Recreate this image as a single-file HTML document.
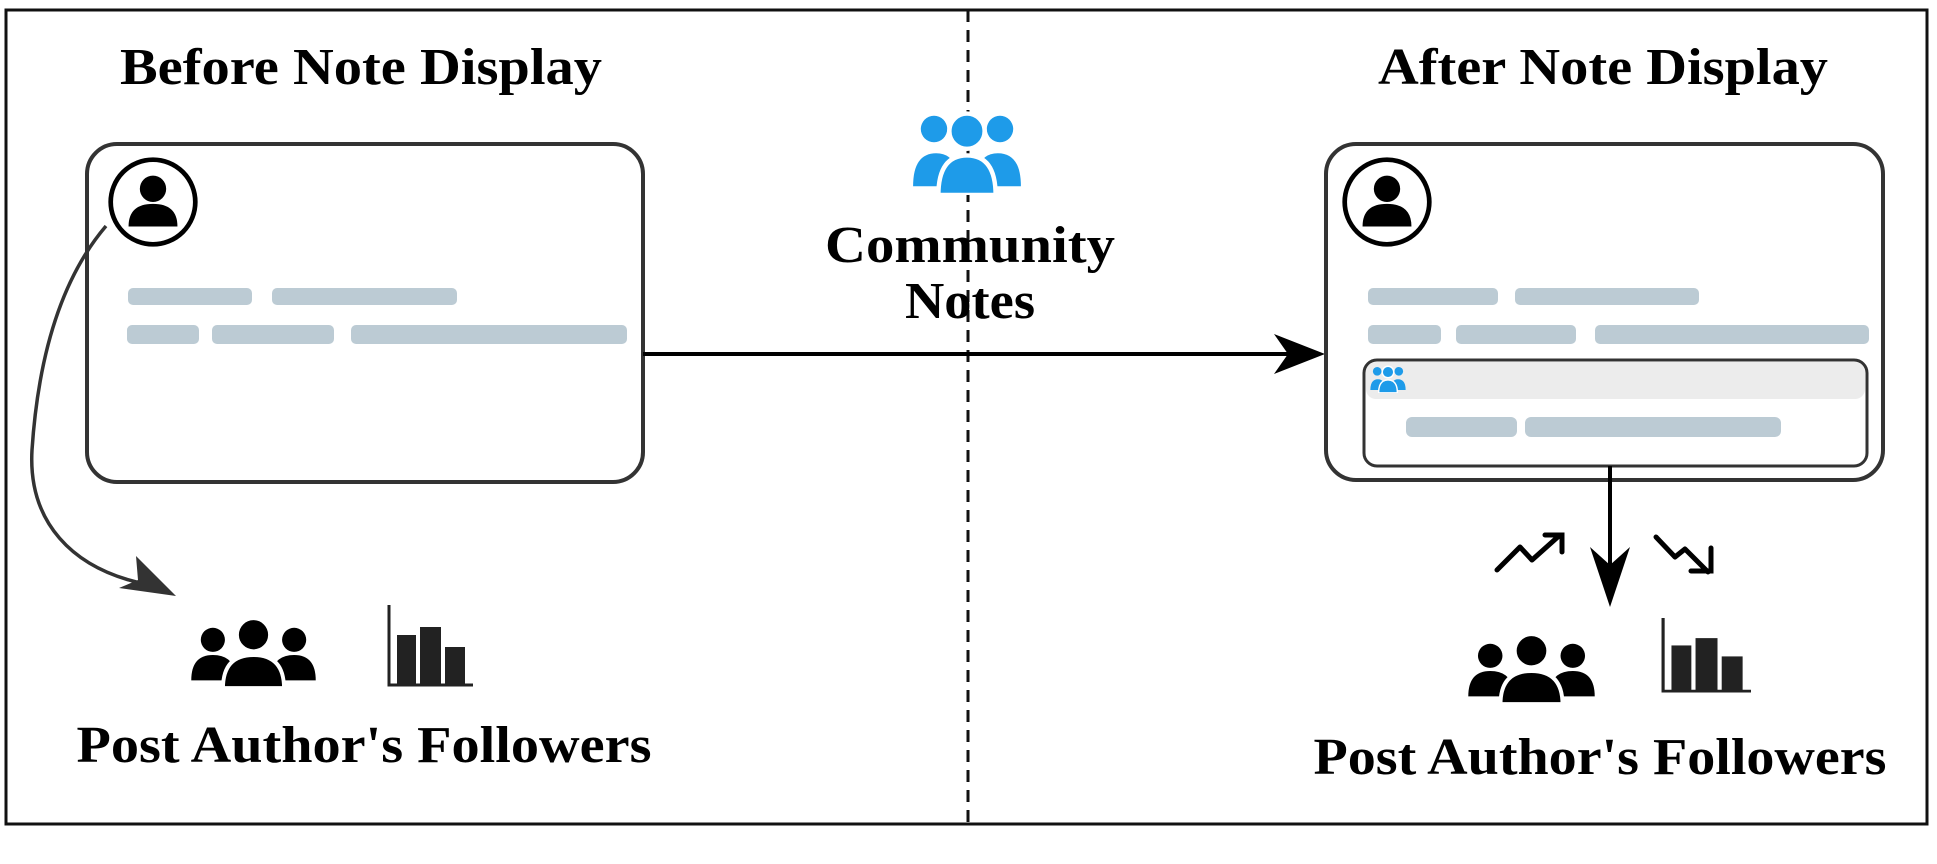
<!DOCTYPE html>
<html><head><meta charset="utf-8"><style>
html,body{margin:0;padding:0;background:#fff;}
svg{display:block;}
text{font-family:"Liberation Serif","Times New Roman",serif;font-weight:bold;fill:#000;}
</style></head><body>
<svg width="1937" height="864" viewBox="0 0 1937 864" xmlns="http://www.w3.org/2000/svg">
<defs>
<symbol id="ppl" viewBox="0 0 100 56" preserveAspectRatio="none">
<circle cx="18" cy="18" r="9.5"/>
<path d="M1 50 Q1 30 18 30 Q33 30 36 44 L34 50 Z"/>
<circle cx="82" cy="18" r="9.5"/>
<path d="M99 50 Q99 30 82 30 Q67 30 64 44 L66 50 Z"/>
<path d="M26 56 Q26 30 50 30 Q74 30 74 56 Z" stroke="#fff" stroke-width="3"/>
<circle cx="50" cy="14" r="13" stroke="#fff" stroke-width="3"/>
</symbol>
<symbol id="pplb" viewBox="0 0 100 80">
<circle cx="20" cy="20" r="12"/>
<path d="M1 72 Q1 42 22 42 Q36 42 40 56 L36 72 Z"/>
<circle cx="80" cy="20" r="12"/>
<path d="M99 72 Q99 42 78 42 Q64 42 60 56 L64 72 Z"/>
<path d="M24 80 Q24 44 50 44 Q76 44 76 80 Z" stroke="#fff" stroke-width="4"/>
<circle cx="50" cy="22" r="16" stroke="#fff" stroke-width="4"/>
</symbol>
<symbol id="bars" viewBox="0 0 86 82" preserveAspectRatio="none">
<path d="M2 0 V80 H86" fill="none" stroke="#222" stroke-width="3"/>
<rect x="10" y="30" width="19" height="50" fill="#222"/>
<rect x="33" y="22" width="21" height="58" fill="#222"/>
<rect x="58" y="42" width="20" height="38" fill="#222"/>
</symbol>
<symbol id="av" viewBox="0 0 100 100">
<circle cx="50" cy="50" r="45" fill="#fff" stroke="#000" stroke-width="5"/>
<circle cx="50" cy="36" r="14"/>
<path d="M24 76 Q24 52 50 52 Q76 52 76 76 Z"/>
</symbol>
</defs>

<rect x="6" y="10" width="1921" height="814" fill="none" stroke="#111" stroke-width="3"/>
<line x1="968" y1="10" x2="968" y2="824" stroke="#111" stroke-width="3" stroke-dasharray="12,8"/>

<text x="361" y="84" font-size="52" text-anchor="middle" textLength="482" lengthAdjust="spacingAndGlyphs">Before Note Display</text>
<text x="1603" y="84" font-size="52" text-anchor="middle" textLength="450" lengthAdjust="spacingAndGlyphs">After Note Display</text>

<!-- left card -->
<rect x="87" y="144" width="556" height="338" rx="30" fill="#fff" stroke="#333" stroke-width="4"/>
<g fill="#bccbd4">
<rect x="128" y="288" width="124" height="17" rx="5"/>
<rect x="272" y="288" width="185" height="17" rx="5"/>
<rect x="127" y="325" width="72" height="19" rx="5"/>
<rect x="212" y="325" width="122" height="19" rx="5"/>
<rect x="351" y="325" width="276" height="19" rx="5"/>
</g>
<path d="M106 226 C 60 280, 38 360, 32 450 C 28 520, 70 570, 150 585" fill="none" stroke="#333" stroke-width="3.5"/>
<polygon points="176,596 119,588 138,580 136,556" fill="#333"/>
<use href="#av" x="106" y="155" width="94" height="94"/>

<use href="#ppl" x="190" y="617" width="127" height="71" fill="#000"/>
<use href="#bars" x="387" y="605" width="86" height="82"/>
<text x="364" y="762" font-size="52" text-anchor="middle" textLength="575" lengthAdjust="spacingAndGlyphs">Post Author's Followers</text>

<!-- center -->
<use href="#pplb" x="912" y="107" width="110" height="88" fill="#1e9be9"/>
<text x="970" y="262" font-size="52" text-anchor="middle" textLength="290" lengthAdjust="spacingAndGlyphs">Community</text>
<text x="970" y="318" font-size="52" text-anchor="middle" textLength="130" lengthAdjust="spacingAndGlyphs">Notes</text>
<line x1="643" y1="354" x2="1295" y2="354" stroke="#000" stroke-width="4"/>
<polygon points="1325,354 1274,334 1288,354 1274,374" fill="#000"/>

<!-- right card -->
<rect x="1326" y="144" width="557" height="336" rx="30" fill="#fff" stroke="#333" stroke-width="4"/>
<g fill="#bccbd4">
<rect x="1368" y="288" width="130" height="17" rx="5"/>
<rect x="1515" y="288" width="184" height="17" rx="5"/>
<rect x="1368" y="325" width="73" height="19" rx="5"/>
<rect x="1456" y="325" width="120" height="19" rx="5"/>
<rect x="1595" y="325" width="274" height="19" rx="5"/>
</g>
<use href="#av" x="1340" y="155" width="94" height="94"/>
<rect x="1364" y="360" width="503" height="106" rx="13" fill="#fff" stroke="#333" stroke-width="3"/>
<rect x="1366" y="362" width="499" height="37" rx="10" fill="#ececec"/>
<use href="#pplb" x="1370" y="364" width="36" height="29" fill="#1e9be9"/>
<g fill="#bccbd4">
<rect x="1406" y="417" width="111" height="20" rx="6"/>
<rect x="1525" y="417" width="256" height="20" rx="6"/>
</g>
<line x1="1610" y1="466" x2="1610" y2="580" stroke="#000" stroke-width="4"/>
<polygon points="1610,607 1590,547 1610,565 1630,547" fill="#000"/>
<polyline points="1497,570 1520,547 1532,560 1560,535" fill="none" stroke="#000" stroke-width="5" stroke-linecap="round" stroke-linejoin="round"/>
<polyline points="1545,535 1562,535 1562,552" fill="none" stroke="#000" stroke-width="5" stroke-linecap="round"/>
<polyline points="1656,537 1675,557 1685,549 1708,572" fill="none" stroke="#000" stroke-width="5" stroke-linecap="round" stroke-linejoin="round"/>
<polyline points="1711,548 1711,571 1691,571" fill="none" stroke="#000" stroke-width="5" stroke-linecap="round"/>

<use href="#ppl" x="1467" y="633" width="129" height="71" fill="#000"/>
<use href="#bars" x="1661" y="618" width="90" height="75"/>
<text x="1600" y="774" font-size="52" text-anchor="middle" textLength="573" lengthAdjust="spacingAndGlyphs">Post Author's Followers</text>
</svg>
</body></html>
